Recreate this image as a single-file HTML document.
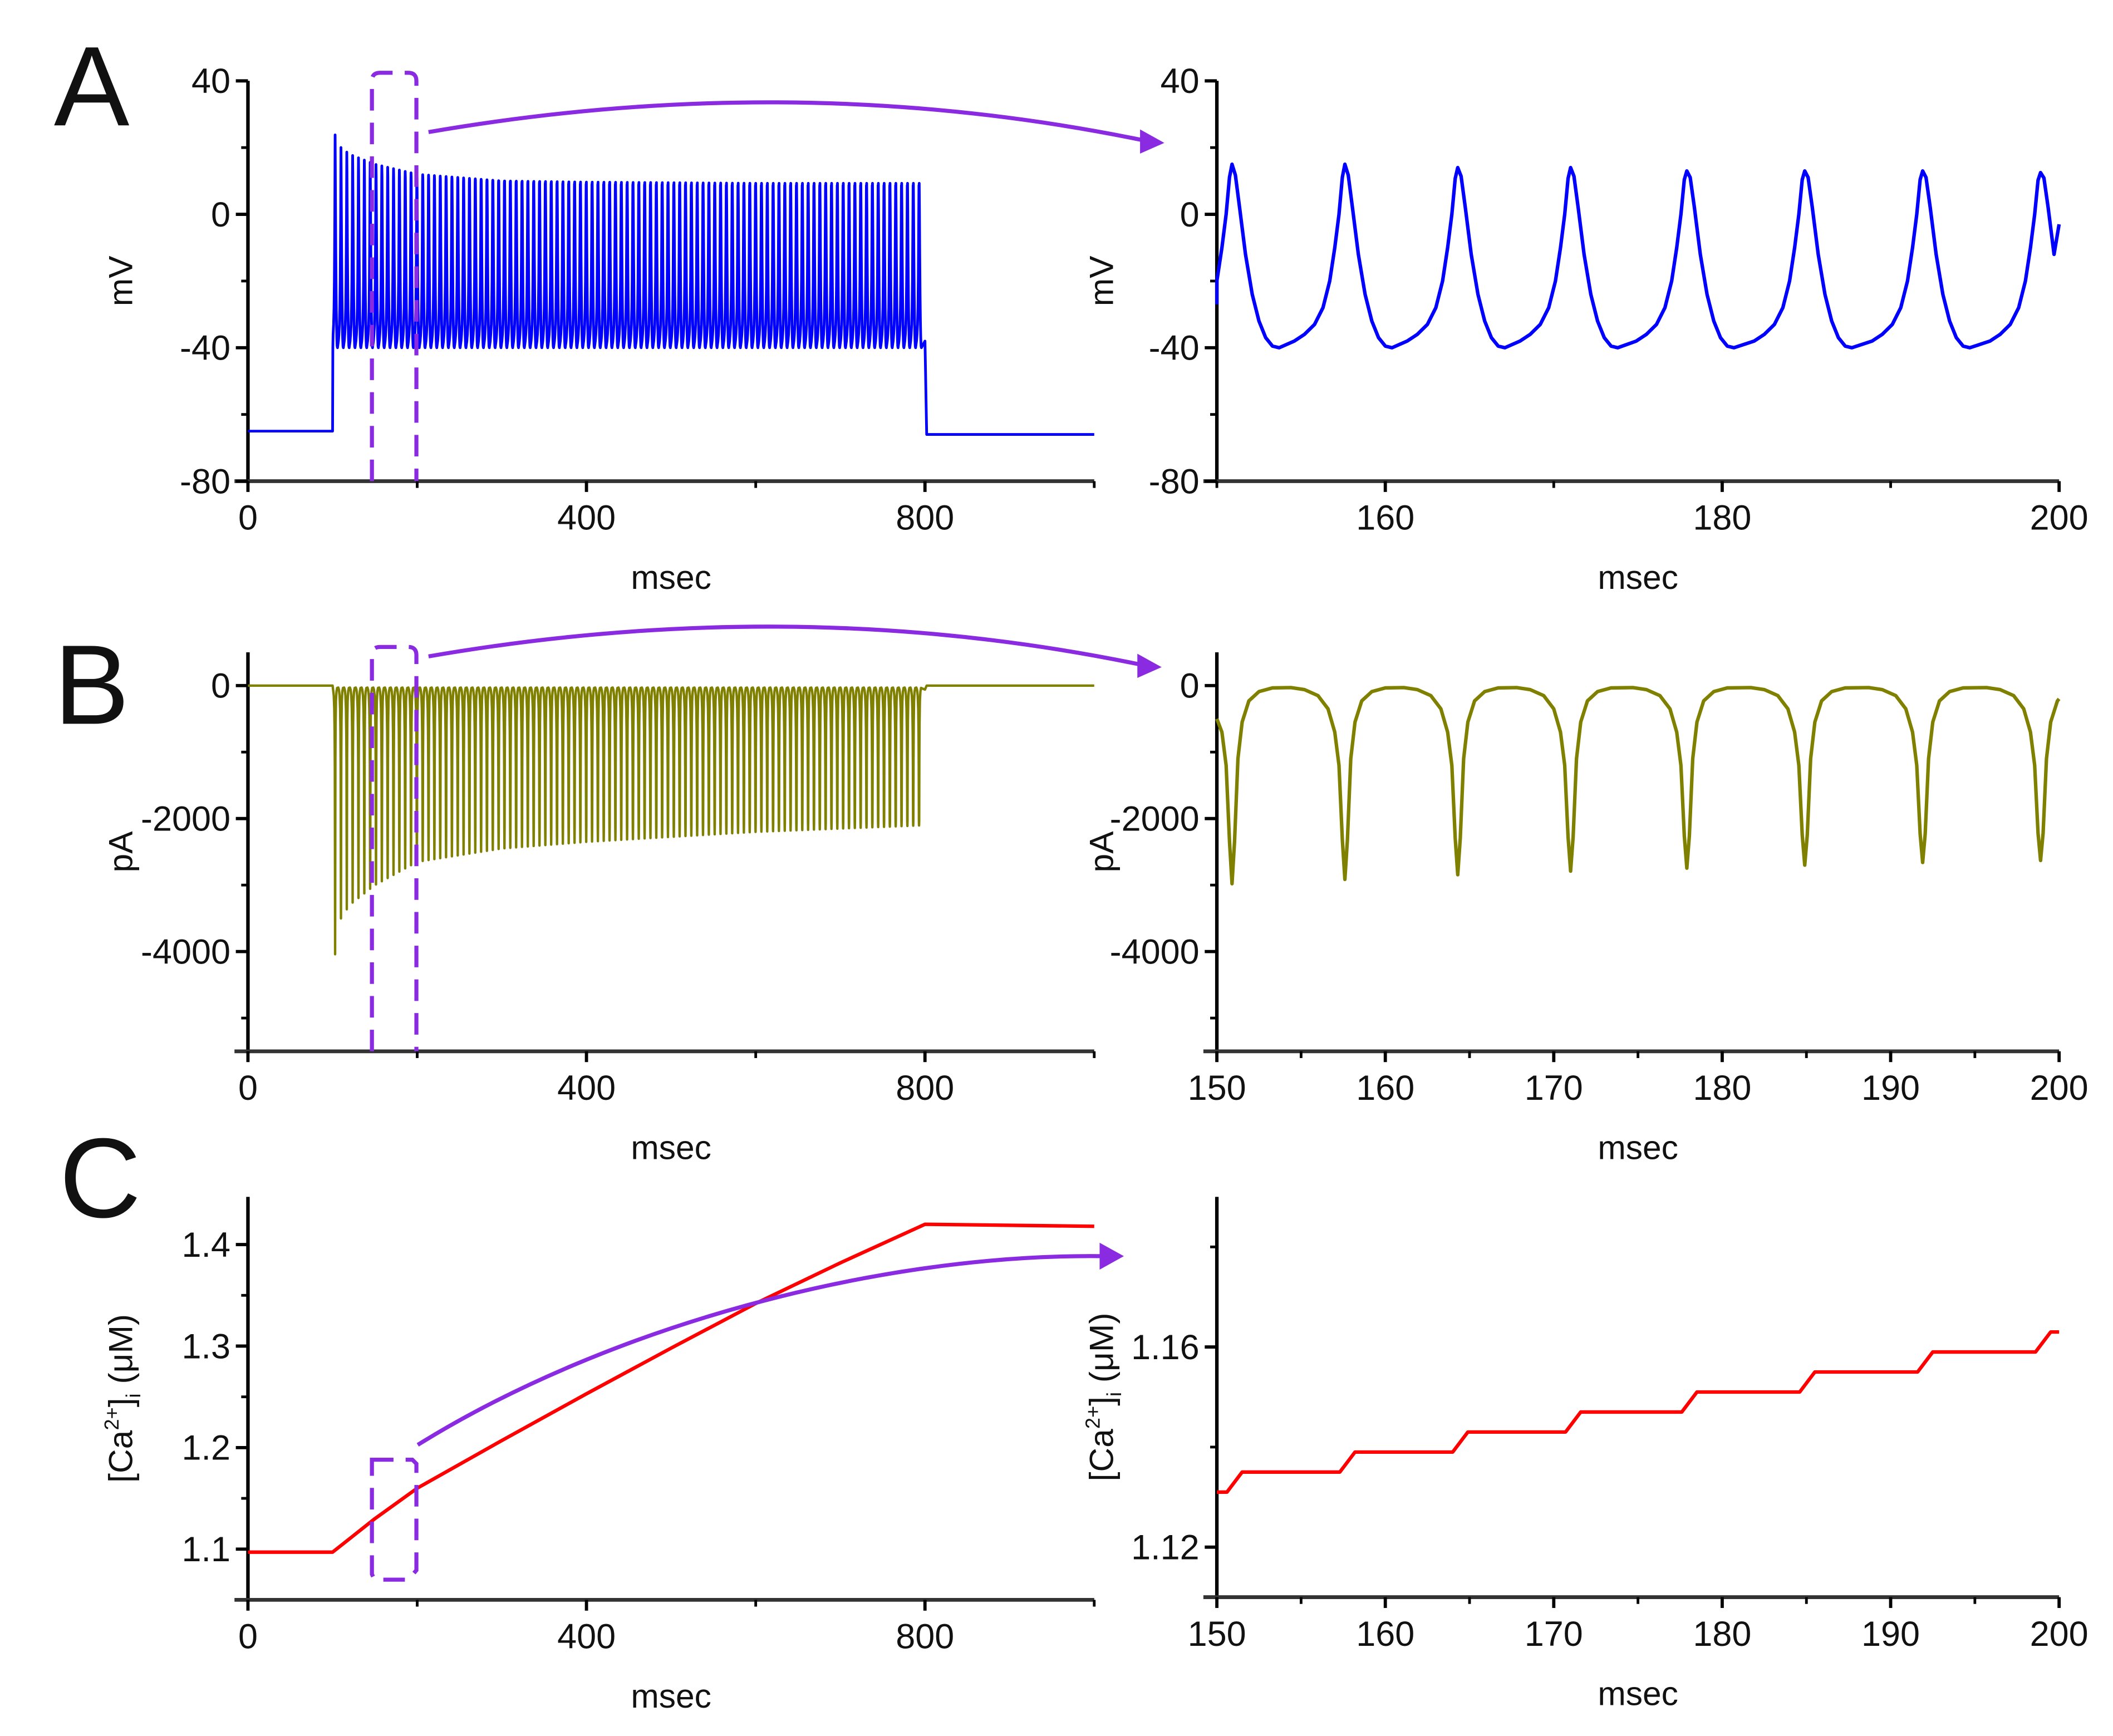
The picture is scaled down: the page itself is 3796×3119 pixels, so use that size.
<!DOCTYPE html>
<html><head><meta charset="utf-8"><style>
html,body{margin:0;padding:0;background:#fff}
svg{display:block}
text{font-family:"Liberation Sans",sans-serif;fill:#111}
</style></head><body>
<svg id="fig" width="3796" height="3119" viewBox="0 0 1568 1288" preserveAspectRatio="none" xmlns="http://www.w3.org/2000/svg">
<rect x="0" y="0" width="1568" height="1288" fill="#fff"/>
<text x="40" y="93" font-size="84">A</text>
<text x="40" y="537" font-size="84">B</text>
<text x="44" y="903" font-size="84">C</text>
<g id="plots"></g>
<g id="annot" stroke="#8a2be2" fill="none" stroke-width="3">
<path d="M276,357 L276,60 Q276,54 282,54 L303,54 Q309,54 309,60 L309,357" stroke-dasharray="16,9"/>
<path d="M276,780 L276,486 Q276,480 282,480 L303,480 Q309,480 309,486 L309,780" stroke-dasharray="16,9"/>
<path d="M276,1083 L306,1083 L309,1086 L309,1165 L303,1172 L278,1172 L276,1168 Z" stroke-dasharray="16,9"/>
<path d="M318,98 Q590,51 848,104"/>
<polygon points="864,106 846,96 846,114" fill="#8a2be2" stroke="none"/>
<path d="M318,487 Q590,440 846,493"/>
<polygon points="862,495 844,485 844,503" fill="#8a2be2" stroke="none"/>
<path d="M310,1072 C450,985 650,930 818,932"/>
<polygon points="834,932 816,922 816,942" fill="#8a2be2" stroke="none"/>
</g>
</svg>
<script>
// ---- data ----
const spikeTimesZoom = [150.9, 157.6, 164.3, 171.0, 177.9, 184.9, 191.9, 198.9];
const vPeaksZoom = [15, 15, 14, 14, 13, 13, 13, 12.5];
const iDipsZoom = [-2980, -2915, -2845, -2790, -2745, -2700, -2660, -2630];
const envTimes = [100, 105, 120, 150, 200, 300, 400, 600, 800];
const vPeakEnv = [28, 21, 18, 15, 12, 10, 9, 8, 8];
const iDipEnv = [-4700, -3600, -3300, -3000, -2650, -2450, -2350, -2200, -2100];
const vRest = [-65, -66];
const caTimes = [0, 100, 150, 200, 300, 400, 500, 600, 700, 800, 1000];
const caValues = [1.097, 1.097, 1.13, 1.16, 1.207, 1.253, 1.298, 1.342, 1.382, 1.42, 1.418];
const caStepTimes = [150, 151.5, 158.2, 164.9, 171.6, 178.5, 185.5, 192.5, 199.5, 200];
const caStepValues = [1.131, 1.135, 1.139, 1.143, 1.147, 1.151, 1.155, 1.159, 1.163, 1.163];
const vTplT = [-3.0, -2.4, -1.8, -1.3, -0.9, -0.6, -0.35, -0.15, 0, 0.2, 0.45, 0.8, 1.2, 1.6, 2.0, 2.4, 2.8];
const vTplV = [-38, -36, -33, -28, -20, -10, 0, 9, 1, 10, 2, -12, -24, -32, -37, -39.5, -40];
const iTplT = [-3.2, -2.4, -1.6, -1.0, -0.6, -0.35, -0.15, 0, 0.15, 0.35, 0.6, 1.0, 1.6, 2.4];
const iTplV = [-30, -60, -150, -350, -700, -1200, -2000, 1, -2000, -1100, -550, -230, -90, -35];

const NS = "http://www.w3.org/2000/svg";
const root = document.getElementById('plots');
function mk(tag, attrs, parent) {
  const e = document.createElementNS(NS, tag);
  for (const k in attrs) e.setAttribute(k, attrs[k]);
  (parent || root).appendChild(e);
  return e;
}
function interp(xs, ys, x) {
  if (x <= xs[0]) return ys[0];
  for (let i = 1; i < xs.length; i++) if (x <= xs[i]) {
    const f = (x - xs[i-1]) / (xs[i] - xs[i-1]); return ys[i-1] + f * (ys[i] - ys[i-1]);
  }
  return ys[ys.length-1];
}
function axes(p) {
  const g = mk('g', {});
  
  
  const sx = v => p.x0 + (v - p.xmin) / (p.xmax - p.xmin) * (p.x1 - p.x0);
  const sy = v => p.y1 - (v - p.ymin) / (p.ymax - p.ymin) * (p.y1 - p.y0);
  mk('line', {x1: p.x0, y1: p.y0, x2: p.x0, y2: p.y1 + 1.5, stroke: '#000', 'stroke-width': 2.6}, g);
  mk('line', {x1: p.x0 - 10, y1: p.y1, x2: p.x1, y2: p.y1, stroke: '#333', 'stroke-width': 2.8}, g);
  p.xmaj.forEach(v => {
    mk('line', {x1: sx(v), y1: p.y1, x2: sx(v), y2: p.y1 + 8, stroke: '#000', 'stroke-width': 2.4}, g);
    const t = mk('text', {x: sx(v), y: p.y1 + 36, 'font-size': 26, 'text-anchor': 'middle'}, g);
    t.textContent = p.xfmt(v);
    
    
  });
  p.xmin_.forEach(v => mk('line', {x1: sx(v), y1: p.y1, x2: sx(v), y2: p.y1 + 5, stroke: '#000', 'stroke-width': 2}, g));
  p.ymaj.forEach(v => {
    mk('line', {x1: p.x0 - 9, y1: sy(v), x2: p.x0, y2: sy(v), stroke: '#000', 'stroke-width': 2.4}, g);
    const t = mk('text', {x: p.x0 - 13, y: sy(v) + 9, 'font-size': 26, 'text-anchor': 'end'}, g);
    t.textContent = p.yfmt(v);
    
    
  });
  p.ymin_.forEach(v => mk('line', {x1: p.x0 - 5, y1: sy(v), x2: p.x0, y2: sy(v), stroke: '#000', 'stroke-width': 2}, g));
  const xl = mk('text', {x: (p.x0 + p.x1) / 2, y: p.y1 + 80, 'font-size': 25, 'text-anchor': 'middle'}, g);
  xl.textContent = 'msec';
  
  
  const yl = mk('text', {x: 0, y: 0, 'font-size': 25, 'text-anchor': 'middle', transform: `translate(${p.ylx},${(p.y0 + p.y1) / 2}) rotate(-90)`}, g);
  if (p.ca) {
    yl.innerHTML = '[Ca<tspan font-size="15" dy="-10">2+</tspan><tspan dy="10">]</tspan><tspan font-size="15" dy="6">i</tspan><tspan dy="-6"> (μM)</tspan>';
  } else yl.textContent = p.ylab;
  
  
  return {sx, sy};
}
function line(pts, s, color, name, w) {
  const d = pts.map((q, i) => (i ? 'L' : 'M') + s.sx(q[0]).toFixed(2) + ',' + s.sy(q[1]).toFixed(2)).join('');
  const e = mk('path', {d, fill: 'none', stroke: color, 'stroke-width': w || 2.4, 'stroke-linejoin': 'round'});
  
  
}
function spikesTrain(times, amps, tT, tV, ampIdx) {
  const pts = [];
  times.forEach((t, k) => {
    const ref = tV[ampIdx] === 1 ? 1 : 1;
    tT.forEach((o, j) => {
      let v = tV[j];
      if (j === ampIdx) v = amps[k];
      else if (j === ampIdx - 1 || j === ampIdx + 1) {
        // shoulder points scale with peak
        v = tV[j] + (amps[k] - tV[j]) * 0.35;
      }
      pts.push([t + o, v]);
    });
  });
  return pts;
}
const fmt = v => String(v);
// Panel A left
const pAL = {name: 'voltage-full', x0: 184, x1: 812, xmin: 0, xmax: 1000, y0: 60, y1: 357, ymin: -80, ymax: 40,
  xmaj: [0, 400, 800], xmin_: [200, 600, 1000], ymaj: [-80, -40, 0, 40], ymin_: [-60, -20, 20], xfmt: fmt, yfmt: fmt, ylx: 98, ylab: 'mV'};
let s = axes(pAL);
const leftTimes = [];
for (let t = 103; t < 797; t += 6.9) leftTimes.push(t);
let pts = [[0, vRest[0]], [100, vRest[0]], [100.3, -40]];
pts = pts.concat(spikesTrain(leftTimes, leftTimes.map(t => interp(envTimes, vPeakEnv, t)), vTplT, vTplV, 8).filter(q => q[0] > 100 && q[0] < 800));
pts.push([800, -38], [802, vRest[1]], [1000, vRest[1]]);
line(pts, s, '#0000ff', 'voltage-trace-full', 2.0);
// Panel A right
const pAR = {name: 'voltage-zoom', x0: 903, x1: 1528, xmin: 150, xmax: 200, y0: 60, y1: 357, ymin: -80, ymax: 40,
  xmaj: [160, 180, 200], xmin_: [150, 170, 190], ymaj: [-80, -40, 0, 40], ymin_: [-60, -20, 20], xfmt: fmt, yfmt: fmt, ylx: 826, ylab: 'mV'};
s = axes(pAR);
pts = spikesTrain(spikeTimesZoom, vPeaksZoom, vTplT, vTplV, 8).filter(q => q[0] >= 150 && q[0] <= 200);
pts.unshift([150, -27]);
pts.push([200, -3]);
line(pts, s, '#0000ff', 'voltage-trace-zoom', 2.6);
// Panel B left
const pBL = {name: 'current-full', x0: 184, x1: 812, xmin: 0, xmax: 1000, y0: 484, y1: 780, ymin: -5500, ymax: 500,
  xmaj: [0, 400, 800], xmin_: [200, 600, 1000], ymaj: [-4000, -2000, 0], ymin_: [-5000, -3000, -1000], xfmt: fmt, yfmt: fmt, ylx: 98, ylab: 'pA'};
s = axes(pBL);
pts = [[0, 0], [100, 0]];
pts = pts.concat(spikesTrain(leftTimes, leftTimes.map(t => interp(envTimes, iDipEnv, t)), iTplT, iTplV, 7).filter(q => q[0] > 100 && q[0] < 800));
pts.push([800, -60], [802, 0], [1000, 0]);
line(pts, s, '#808000', 'current-trace-full', 1.8);
// Panel B right
const pBR = {name: 'current-zoom', x0: 903, x1: 1528, xmin: 150, xmax: 200, y0: 484, y1: 780, ymin: -5500, ymax: 500,
  xmaj: [150, 160, 170, 180, 190, 200], xmin_: [155, 165, 175, 185, 195], ymaj: [-4000, -2000, 0], ymin_: [-5000, -3000, -1000], xfmt: fmt, yfmt: fmt, ylx: 826, ylab: 'pA'};
s = axes(pBR);
pts = spikesTrain(spikeTimesZoom, iDipsZoom, iTplT, iTplV, 7).filter(q => q[0] >= 150 && q[0] <= 200);
pts.unshift([150, -500]);
pts.push([200, -200]);
line(pts, s, '#808000', 'current-trace-zoom', 2.6);
// Panel C left
const pCL = {name: 'calcium-full', x0: 184, x1: 812, xmin: 0, xmax: 1000, y0: 888, y1: 1187, ymin: 1.05, ymax: 1.447,
  xmaj: [0, 400, 800], xmin_: [200, 600, 1000], ymaj: [1.1, 1.2, 1.3, 1.4], ymin_: [1.15, 1.25, 1.35], xfmt: fmt, yfmt: v => v.toFixed(1), ylx: 98, ca: true};
s = axes(pCL);
line(caTimes.map((t, i) => [t, caValues[i]]), s, '#ff0000', 'calcium-trace-full', 2.6);
// Panel C right
const pCR = {name: 'calcium-zoom', x0: 903, x1: 1528, xmin: 150, xmax: 200, y0: 888, y1: 1185, ymin: 1.11, ymax: 1.19,
  xmaj: [150, 160, 170, 180, 190, 200], xmin_: [155, 165, 175, 185, 195], ymaj: [1.12, 1.16], ymin_: [1.14, 1.18], xfmt: fmt, yfmt: v => v.toFixed(2), ylx: 826, ca: true};
s = axes(pCR);
pts = [];
caStepTimes.forEach((t, i) => {
  if (i > 0 && i < caStepTimes.length - 1) { pts.push([t - 0.9, caStepValues[i-1]]); pts.push([t, caStepValues[i]]); }
  else if (i === 0) { pts.push([t, caStepValues[0]]); pts.push([t + 0.6, caStepValues[0]]); }
  else { pts.push([t, caStepValues[i]]); }
});
line(pts, s, '#ff0000', 'calcium-trace-zoom', 2.6);
document.getElementById('fig').appendChild(document.getElementById('annot'));
</script>
</body></html>
